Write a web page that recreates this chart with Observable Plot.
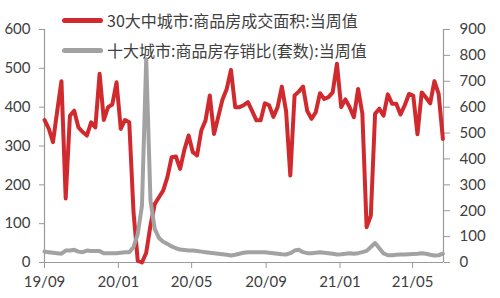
<!DOCTYPE html>
<html><head><meta charset="utf-8">
<script src="https://cdn.jsdelivr.net/npm/d3@7"></script>
<script src="https://cdn.jsdelivr.net/npm/@observablehq/plot@0.6"></script>
<style>
body{margin:0;background:#fff;}
#wrap{position:relative;width:500px;height:298px;}
.leg{position:absolute;left:62px;height:20px;display:flex;align-items:center;font-family:"Noto Sans CJK SC",sans-serif;font-size:16px;color:#404040;white-space:nowrap;}
.sw{width:41px;height:5px;border-radius:3px;margin-right:4px;}
</style></head><body><div id="wrap"></div>
<script>
const startDate = "2019-09-01";
const seriesNames = ["30大中城市:商品房成交面积:当周值", "十大城市:商品房存销比(套数):当周值"];
const seriesColors = ["#d12a2e", "#a2a2a2"];
// 30大中城市 商品房成交面积 (左轴)
const salesArea = [
 367,345,310,390,467,165,378,391,348,336,
 327,361,348,486,367,400,407,464,344,367,
 361,130,5,0,25,95,150,168,185,220,
 271,273,241,290,327,284,276,340,366,430,
 331,375,420,447,496,400,400,405,413,390,
 366,366,410,405,375,400,453,390,224,430,
 440,453,390,370,387,436,421,426,438,512,
 400,420,400,374,447,383,91,121,383,396,
 378,433,409,409,381,405,434,430,330,438,
 425,410,467,434,318
];
// 十大城市 商品房存销比 (右轴)
const stockRatio = [
 42,40,38,36,34,46,46,49,42,40,
 46,44,44,44,36,36,36,36,38,40,
 40,59,110,220,785,240,130,95,80,72,
 62,55,50,48,46,46,44,42,40,38,
 36,34,32,30,27,30,34,38,40,40,
 40,40,40,38,36,34,32,31,36,46,
 49,40,36,36,38,40,38,36,34,31,
 32,34,36,34,36,40,45,60,75,55,
 35,28,28,30,31,31,32,33,34,36,
 34,30,27,28,34
];
const leftTicks = [0,100,200,300,400,500,600];
const rightTicks = [0,100,200,300,400,500,600,700,800,900];
const xTicks = ["2019-09-01","2020-01-01","2020-05-01","2020-09-01","2021-01-01","2021-05-01"];
const xDomain = ["2019-09-01","2021-06-21"];

const k = 600/900;
const rows = salesArea.map((v,i)=>({date:d3.utcDay.offset(new Date(startDate), 7*i), area:v, ratio:stockRatio[i]}));
const xd = xDomain.map(d=>new Date(d));
const axisColor = "#9a9a9a", textColor = "#404040";

const chart = Plot.plot({
  width:500, height:298,
  marginLeft:44, marginRight:57, marginTop:29, marginBottom:36,
  style:{fontFamily:"Lato, 'Noto Sans', sans-serif", fontSize:"15px", background:"#fff", color:textColor},
  x:{type:"utc", domain:xd},
  y:{domain:[0,600]},
  marks:[
    Plot.ruleY([0], {stroke:axisColor, strokeWidth:1.2}),
    Plot.ruleX([xd[0], xd[1]], {stroke:axisColor, strokeWidth:1.2}),
    Plot.axisX({ticks:xTicks.map(d=>new Date(d)), tickFormat:d3.utcFormat("%y/%m"), tickSize:6, tickPadding:8, stroke:axisColor, fill:textColor, fontSize:15, label:null}),
    Plot.axisY({anchor:"left", ticks:leftTicks, tickSize:5, tickPadding:9, stroke:axisColor, fill:textColor, fontSize:15, label:null}),
    Plot.axisY({anchor:"right", ticks:rightTicks.map(v=>v*k), tickFormat:d=>Math.round(d/k), tickSize:6, tickPadding:10, stroke:axisColor, fill:textColor, fontSize:15, label:null}),
    Plot.lineY(rows, {x:"date", y:"area", stroke:seriesColors[0], strokeWidth:4, strokeLinejoin:"round"}),
    Plot.lineY(rows, {x:"date", y:d=>d.ratio*k, stroke:seriesColors[1], strokeWidth:4, strokeLinejoin:"round"})
  ]
});
const wrap = document.getElementById("wrap");
wrap.appendChild(chart);
seriesNames.forEach((name,i)=>{
  const d = document.createElement("div");
  d.className = "leg";
  d.style.top = (10 + 30*i) + "px";
  const sw = document.createElement("span");
  sw.className = "sw"; sw.style.background = seriesColors[i];
  const t = document.createElement("span"); t.textContent = name;
  d.appendChild(sw); d.appendChild(t);
  wrap.appendChild(d);
});
</script></body></html>
